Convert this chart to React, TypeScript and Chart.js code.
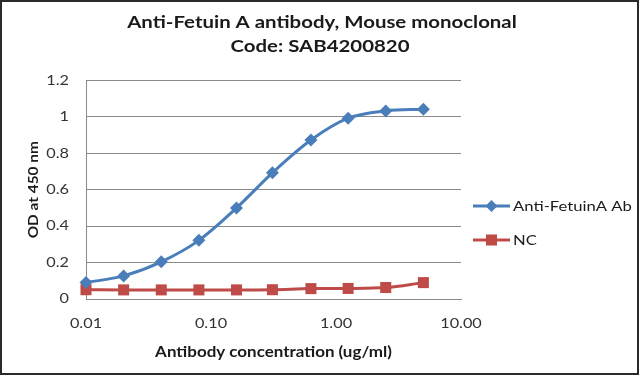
import React, { useEffect, useRef } from 'react';
import { Chart, registerables } from 'chart.js';

Chart.register(...registerables);

const concentrations = [0.01, 0.02, 0.04, 0.08, 0.16, 0.31, 0.63, 1.25, 2.5, 5];
const antiFetuinA = [0.09, 0.127, 0.204, 0.322, 0.5, 0.693, 0.873, 0.993, 1.033, 1.042];
const ncValues = [0.051, 0.05, 0.05, 0.05, 0.05, 0.051, 0.057, 0.058, 0.063, 0.09];
const xTickValues = [0.01, 0.1, 1, 10];
const seriesNames = ['Anti-FetuinA Ab', 'NC'];
const titleLines = ['Anti-Fetuin A antibody, Mouse monoclonal', 'Code: SAB4200820'];
const xAxisTitle = 'Antibody concentration (ug/ml)';
const yAxisTitle = 'OD at 450 nm';

const FONT = 'Lato, "Open Sans", sans-serif';
const BLUE = '#4A7EBB';
const RED = '#BE4B48';
const TEXT_DARK = '#1a1a1a';
const TEXT_TICK = '#333333';

function drawStretched(
  ctx: CanvasRenderingContext2D,
  text: string,
  x: number,
  y: number,
  font: string,
  color: string,
  sx: number,
  align: CanvasTextAlign,
  rotate = false
) {
  ctx.save();
  ctx.translate(x, y);
  if (rotate) ctx.rotate(-Math.PI / 2);
  ctx.scale(sx, 1);
  ctx.font = font;
  ctx.fillStyle = color;
  ctx.textAlign = align;
  ctx.textBaseline = 'middle';
  ctx.fillText(text, 0, 0);
  ctx.restore();
}

const textPlugin = {
  id: 'textAndLegend',
  afterDraw(chart: any) {
    const ctx: CanvasRenderingContext2D = chart.ctx;
    const area = chart.chartArea;
    const xs = chart.scales.x;
    const ys = chart.scales.y;

    // Titles
    drawStretched(ctx, titleLines[0], 322, 23, `bold 17px ${FONT}`, TEXT_DARK, 1.2, 'center');
    drawStretched(ctx, titleLines[1], 320, 47, `bold 17px ${FONT}`, TEXT_DARK, 1.2, 'center');

    // X tick labels
    xs.ticks.forEach((t: any) => {
      const px = xs.getPixelForValue(t.value);
      drawStretched(ctx, Number(t.value).toFixed(2), px, 324, `13px ${FONT}`, TEXT_TICK, 1.25, 'center');
    });
    // Y tick labels
    ys.ticks.forEach((t: any) => {
      const py = ys.getPixelForValue(t.value);
      const label = String(Math.round(Number(t.value) * 10) / 10);
      drawStretched(ctx, label, 69, py, `13px ${FONT}`, TEXT_TICK, 1.25, 'right');
    });

    // Axis titles
    drawStretched(ctx, xAxisTitle, (area.left + area.right) / 2, 352, `bold 14.5px ${FONT}`, TEXT_DARK, 1.17, 'center');
    drawStretched(ctx, yAxisTitle, 33, (area.top + area.bottom) / 2, `bold 14px ${FONT}`, TEXT_DARK, 1.1, 'center', true);

    // Legend
    const items = [
      { y: 206, color: BLUE, style: 'diamond' },
      { y: 240, color: RED, style: 'square' },
    ];
    ctx.save();
    items.forEach((it, i) => {
      ctx.strokeStyle = it.color;
      ctx.lineWidth = 3;
      ctx.beginPath();
      ctx.moveTo(473, it.y);
      ctx.lineTo(510, it.y);
      ctx.stroke();
      ctx.fillStyle = it.color;
      const cx = 491.5;
      if (it.style === 'diamond') {
        ctx.beginPath();
        ctx.moveTo(cx, it.y - 6);
        ctx.lineTo(cx + 6, it.y);
        ctx.lineTo(cx, it.y + 6);
        ctx.lineTo(cx - 6, it.y);
        ctx.closePath();
        ctx.fill();
      } else {
        ctx.fillRect(cx - 5.5, it.y - 5.5, 11, 11);
      }
    });
    ctx.restore();
    items.forEach((it, i) => {
      drawStretched(ctx, seriesNames[i], 513, it.y + 1, `13px ${FONT}`, TEXT_DARK, 1.28, 'left');
    });

    // Outer border
    ctx.save();
    ctx.strokeStyle = '#2a2a2a';
    ctx.lineWidth = 2;
    ctx.strokeRect(1, 1, chart.width - 3, chart.height - 4);
    ctx.restore();
  },
};

export default function App() {
  const canvasRef = useRef<HTMLCanvasElement | null>(null);

  useEffect(() => {
    if (!canvasRef.current) return;
    const chart = new Chart(canvasRef.current, {
      type: 'line',
      data: {
        datasets: [
          {
            label: seriesNames[0],
            data: concentrations.map((x, i) => ({ x, y: antiFetuinA[i] })),
            borderColor: BLUE,
            backgroundColor: BLUE,
            borderWidth: 3,
            pointStyle: 'rectRot',
            pointRadius: 6.5,
            pointBorderWidth: 0,
            tension: 0.35,
            cubicInterpolationMode: 'monotone',
          },
          {
            label: seriesNames[1],
            data: concentrations.map((x, i) => ({ x, y: ncValues[i] })),
            borderColor: RED,
            backgroundColor: RED,
            borderWidth: 3,
            pointStyle: 'rect',
            pointRadius: 7.8,
            pointBorderWidth: 0,
            tension: 0.35,
            cubicInterpolationMode: 'monotone',
          },
        ],
      },
      options: {
        animation: false,
        responsive: false,
        clip: false,
        layout: { padding: { left: 0, right: 179, top: 80.5, bottom: 0 } },
        plugins: {
          legend: { display: false },
          tooltip: { enabled: false },
          title: { display: false },
        },
        scales: {
          x: {
            type: 'logarithmic',
            min: 0.01,
            max: 10,
            afterFit: (scale: any) => {
              scale.height = 78;
            },
            afterBuildTicks: (scale: any) => {
              scale.ticks = xTickValues.map((v) => ({ value: v }));
            },
            grid: { display: false, drawTicks: false },
            border: { display: true, color: '#8a8a8a', width: 1 },
            ticks: { display: false, autoSkip: false, maxRotation: 0 },
            title: { display: false },
          },
          y: {
            min: 0,
            max: 1.2,
            afterFit: (scale: any) => {
              scale.width = 86;
            },
            grid: { color: '#8a8a8a', lineWidth: 1, drawTicks: false },
            border: { display: true, color: '#8a8a8a', width: 1 },
            ticks: { display: false, stepSize: 0.2 },
            title: { display: false },
          },
        },
      },
      plugins: [textPlugin],
    } as any);
    return () => chart.destroy();
  }, []);

  return (
    <div style={{ position: 'fixed', left: 0, top: 0, width: 640, height: 377, background: '#fff' }}>
      <canvas ref={canvasRef} width={640} height={377} style={{ display: 'block' }} />
    </div>
  );
}
